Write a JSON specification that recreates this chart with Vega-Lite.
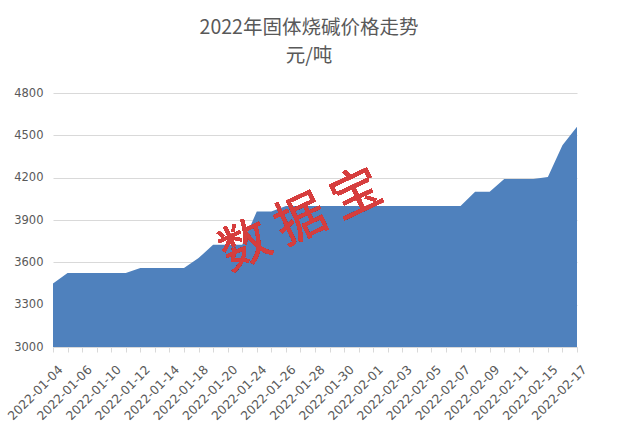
{
  "$schema": "https://vega.github.io/schema/vega-lite/v6.json",
  "autosize": {"type": "none"},
  "padding": {"left": 53, "top": 93, "right": 41, "bottom": 88},
  "width": 524,
  "height": 254,
  "background": "white",
  "config": {
    "view": {"stroke": null},
    "font": "DejaVu Sans"
  },
  "title": {
    "text": ["2022年固体烧碱价格走势", "元/吨"],
    "font": "Noto Sans CJK SC",
    "fontSize": 19.5,
    "fontWeight": "normal",
    "color": "#595959",
    "anchor": "middle",
    "frame": "group",
    "offset": 21,
    "dx": -6,
    "lineHeight": 28
  },
  "data": {
    "values": [
      {"date": "2022-01-04", "price": 3450},
      {"date": "2022-01-05", "price": 3525},
      {"date": "2022-01-06", "price": 3525},
      {"date": "2022-01-07", "price": 3525},
      {"date": "2022-01-10", "price": 3525},
      {"date": "2022-01-11", "price": 3525},
      {"date": "2022-01-12", "price": 3560},
      {"date": "2022-01-13", "price": 3560},
      {"date": "2022-01-14", "price": 3560},
      {"date": "2022-01-17", "price": 3560},
      {"date": "2022-01-18", "price": 3630},
      {"date": "2022-01-19", "price": 3725},
      {"date": "2022-01-20", "price": 3725},
      {"date": "2022-01-21", "price": 3725},
      {"date": "2022-01-24", "price": 3960},
      {"date": "2022-01-25", "price": 3960},
      {"date": "2022-01-26", "price": 4000},
      {"date": "2022-01-27", "price": 4000},
      {"date": "2022-01-28", "price": 4000},
      {"date": "2022-01-29", "price": 4000},
      {"date": "2022-01-30", "price": 4000},
      {"date": "2022-01-31", "price": 4000},
      {"date": "2022-02-01", "price": 4000},
      {"date": "2022-02-02", "price": 4000},
      {"date": "2022-02-03", "price": 4000},
      {"date": "2022-02-04", "price": 4000},
      {"date": "2022-02-05", "price": 4000},
      {"date": "2022-02-06", "price": 4000},
      {"date": "2022-02-07", "price": 4000},
      {"date": "2022-02-08", "price": 4100},
      {"date": "2022-02-09", "price": 4100},
      {"date": "2022-02-10", "price": 4190},
      {"date": "2022-02-11", "price": 4190},
      {"date": "2022-02-14", "price": 4190},
      {"date": "2022-02-15", "price": 4205},
      {"date": "2022-02-16", "price": 4430},
      {"date": "2022-02-17", "price": 4560}
    ]
  },
  "layer": [
    {
      "mark": {"type": "area", "color": "#4f81bd", "opacity": 1},
      "encoding": {
        "x": {
          "field": "date",
          "type": "ordinal",
          "sort": null,
          "scale": {"type": "point", "padding": 0},
          "axis": {
            "title": null,
            "labelAngle": -45,
            "labelOverlap": false,
            "labelFont": "DejaVu Sans",
            "labelFontSize": 12.3,
            "labelColor": "#595959",
            "labelPadding": 11,
            "labelOffset": 3,
            "domainColor": "#d9d9d9",
            "tickColor": "#d9d9d9",
            "tickSize": 5,
            "grid": false,
            "labelExpr": "indexof(['2022-01-04','2022-01-06','2022-01-10','2022-01-12','2022-01-14','2022-01-18','2022-01-20','2022-01-24','2022-01-26','2022-01-28','2022-01-30','2022-02-01','2022-02-03','2022-02-05','2022-02-07','2022-02-09','2022-02-11','2022-02-15','2022-02-17'], datum.value) >= 0 ? datum.value : ''"
          }
        },
        "y": {
          "field": "price",
          "type": "quantitative",
          "scale": {"domain": [3000, 4800], "zero": false, "nice": false},
          "axis": {
            "title": null,
            "values": [3000, 3300, 3600, 3900, 4200, 4500, 4800],
            "format": "d",
            "grid": true,
            "gridColor": "#d9d9d9",
            "domain": false,
            "ticks": false,
            "labelPadding": 10,
            "labelFont": "DejaVu Sans",
            "labelFontSize": 11.5,
            "labelColor": "#595959"
          }
        },
        "y2": {"datum": 3000}
      }
    },
    {
      "mark": {
        "type": "text",
        "text": "数 据 宝",
        "font": "Noto Sans CJK SC",
        "fontSize": 50,
        "angle": -25,
        "color": "#d63e3e",
        "opacity": 0.72,
        "align": "center",
        "baseline": "middle",
        "dx": 1
      },
      "encoding": {
        "x": {"datum": "2022-01-27", "type": "ordinal"},
        "y": {"datum": 3890, "type": "quantitative"}
      }
    }
  ]
}
